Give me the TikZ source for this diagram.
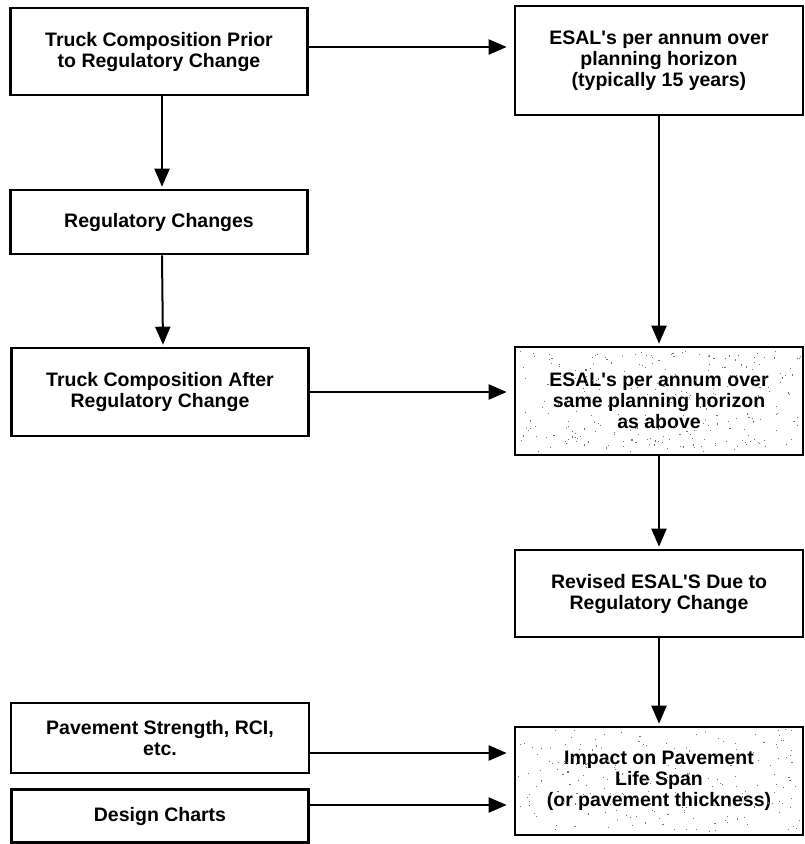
\documentclass[tikz,border=0pt]{standalone}
\usepackage{fontspec}
\setmainfont{Liberation Sans}
\usetikzlibrary{arrows.meta}
\begin{document}
\begin{tikzpicture}[x=1pt,y=1pt,
  box/.style={draw, line width=2.6pt, align=center, inner sep=0pt,
    font=\fontsize{19.5}{21}\selectfont\bfseries},
  arr/.style={line width=2pt, -{Triangle[length=18pt,width=15pt]}},
  harr/.style={arr, shorten >=7pt},
  varr/.style={arr, shorten >=2pt},
  speck/.style={fill=black!55}]
\useasboundingbox (0,0) rectangle (804,-844);

% left column
\node[box, minimum width=297pt, minimum height=87pt] (B1) at (159,-51.5)
  {Truck Composition Prior\\to Regulatory Change};
\node[box, minimum width=297pt, minimum height=64pt] (B2) at (159,-222)
  {Regulatory Changes};
\node[box, minimum width=297pt, minimum height=88pt] (B3) at (160,-392)
  {Truck Composition After\\Regulatory Change};
\node[box, minimum width=298pt, minimum height=70pt] (P1) at (160,-738)
  {Pavement Strength, RCI,\\etc.};
\node[box, minimum width=297pt, minimum height=53pt] (P2) at (160,-816)
  {Design Charts};

% right column
\node[box, minimum width=288pt, minimum height=109pt] (R1) at (659,-60.5)
  {ESAL\textquotesingle s per annum over\\planning horizon\\(typically 15 years)};
\node[box, minimum width=288pt, minimum height=108pt] (R2) at (659,-401)
  {ESAL\textquotesingle s per annum over\\same planning horizon\\as above};
\node[box, minimum width=288pt, minimum height=87pt] (R3) at (659,-593.5)
  {Revised ESAL\textquotesingle S Due to\\Regulatory Change};
\node[box, minimum width=288pt, minimum height=108pt] (R4) at (659,-781)
  {Impact on Pavement\\Life Span\\(or pavement thickness)};

% speckled shading
\pgfmathsetseed{17}
\foreach \i in {1,...,260}{
  \pgfmathsetmacro\px{518+282*rnd}
  \pgfmathsetmacro\py{350+102*rnd}
  \fill[speck] (\px,-\py) rectangle ++(1.1,1.1);
}
\foreach \i in {1,...,200}{
  \pgfmathsetmacro\px{518+282*rnd}
  \pgfmathsetmacro\py{730+102*rnd}
  \fill[speck] (\px,-\py) rectangle ++(1.1,1.1);
}

% connectors
\draw[harr] ([yshift=4.5pt]B1.east) -- ([yshift=4.5pt]B1.east -| R1.west);
\draw[varr] ([xshift=3pt]B1.south) -- ([xshift=3pt]B2.north);
\draw[varr] ([xshift=3pt]B2.south) -- ([xshift=3pt]B3.north);
\draw[harr] (B3.east) -- (B3.east -| R2.west);
\draw[varr] (R1.south) -- (R2.north);
\draw[varr] (R2.south) -- (R3.north);
\draw[varr] (R3.south) -- (R4.north);
\draw[harr] ([yshift=-15pt]P1.east) -- ([yshift=-15pt]P1.east -| R4.west);
\draw[harr] ([yshift=11pt]P2.east) -- ([yshift=11pt]P2.east -| R4.west);
\end{tikzpicture}
\end{document}
